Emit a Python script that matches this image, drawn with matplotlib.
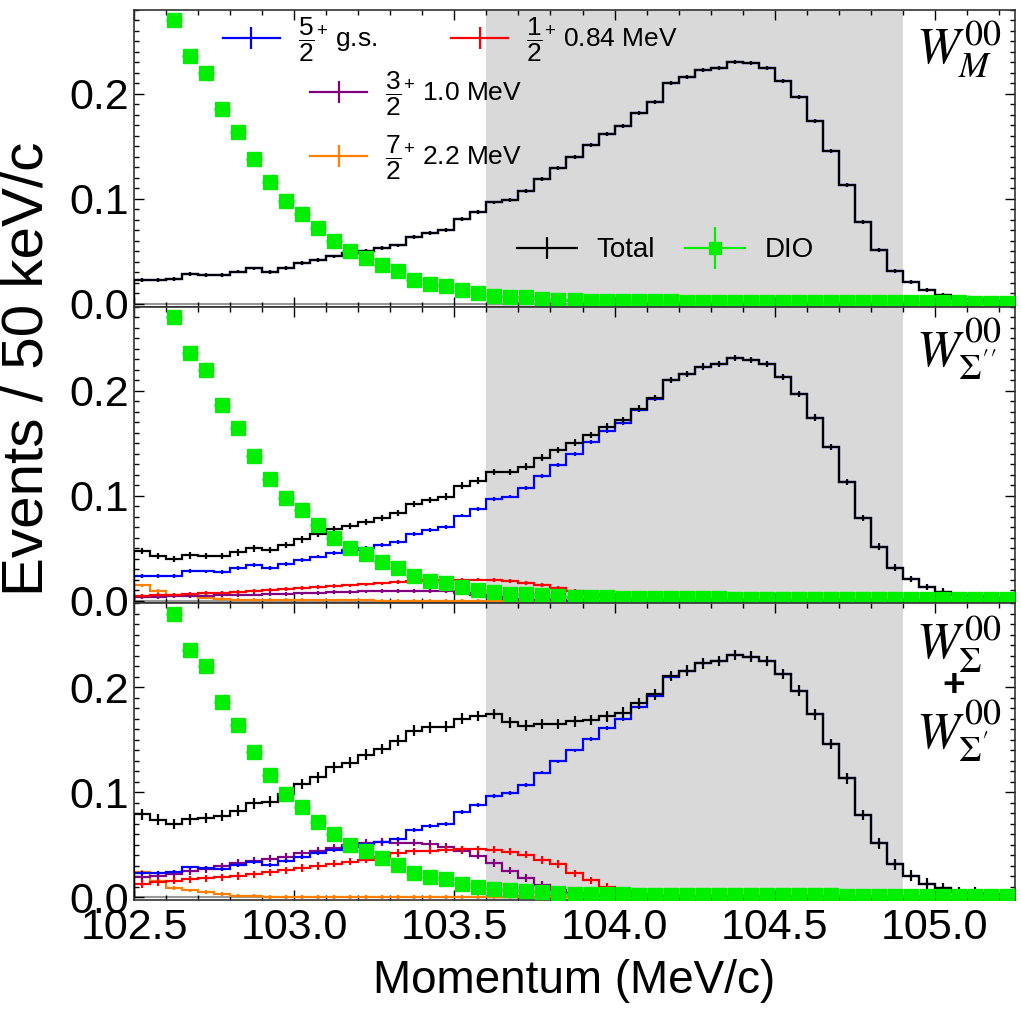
import numpy as np
import matplotlib
matplotlib.use("Agg")
import matplotlib.pyplot as plt
from matplotlib.lines import Line2D
from matplotlib.ticker import MultipleLocator, FormatStrFormatter

plt.rcParams['font.family'] = ['Liberation Sans', 'DejaVu Sans']
plt.rcParams['mathtext.fontset'] = 'custom'
plt.rcParams['mathtext.rm'] = 'Liberation Sans'
plt.rcParams['mathtext.it'] = 'Liberation Sans:italic'

# binning: 50 keV/c bins from 102.5 to 105.25 MeV/c
p_min = 102.5
bin_w = 0.05
n_bins = 55

# 5/2+ ground state (same in every panel, = total in the W_M panel)
gs = [0.0231, 0.0231, 0.0238, 0.0284, 0.0278, 0.0272, 0.0308, 0.0338, 0.0307, 0.0345,
      0.0387, 0.0420, 0.0452, 0.0482, 0.0503, 0.0530, 0.0557, 0.0638, 0.0676, 0.0701,
      0.0810, 0.0876, 0.0967, 0.0991, 0.1073, 0.1188, 0.1294, 0.1399, 0.1511, 0.1616,
      0.1695, 0.1816, 0.1921, 0.2102, 0.2159, 0.2229, 0.2251, 0.2308, 0.2292, 0.2251,
      0.2127, 0.1968, 0.1743, 0.1460, 0.1133, 0.0784, 0.0514, 0.0314, 0.0206, 0.0130,
      0.0086, 0.0051, 0.0044, 0.0029, 0.0007]

# decay-in-orbit background (same in every panel)
dio = [0.340, 0.300, 0.270, 0.236, 0.220, 0.186, 0.164, 0.138, 0.116, 0.098,
       0.086, 0.072, 0.060, 0.050, 0.044, 0.037, 0.031, 0.023, 0.019, 0.017,
       0.013, 0.010, 0.008, 0.0067, 0.0063, 0.0050, 0.0041, 0.0035, 0.0032, 0.0030,
       0.0028, 0.0026, 0.0025, 0.0024, 0.0023, 0.0022, 0.0021, 0.0020, 0.0020, 0.0019,
       0.0018, 0.0018, 0.0017, 0.0017, 0.0016, 0.0016, 0.0015, 0.0015, 0.0015, 0.0014,
       0.0014, 0.0014, 0.0013, 0.0013, 0.0013]

# W_Sigma'' panel
red_s2 = [0.0045, 0.0051, 0.0058, 0.0064, 0.0071, 0.0077, 0.0083, 0.0090, 0.0099, 0.0109,
          0.0118, 0.0128, 0.0138, 0.0144, 0.0154, 0.0163, 0.0176, 0.0185, 0.0195, 0.0201,
          0.0198, 0.0201, 0.0195, 0.0185, 0.0166, 0.0147, 0.0121, 0.0093, 0.0065, 0.0042,
          0.0025, 0.0013, 0.0006, 0.0002, 0.0, 0.0, 0.0, 0.0, 0.0, 0.0,
          0.0, 0.0, 0.0, 0.0, 0.0, 0.0, 0.0, 0.0, 0.0, 0.0,
          0.0, 0.0, 0.0, 0.0, 0.0]
purple_s2 = [0.0036, 0.0036, 0.0045, 0.0045, 0.0048, 0.0051, 0.0055, 0.0058, 0.0061, 0.0064,
             0.0068, 0.0074, 0.0080, 0.0083, 0.0087, 0.0090, 0.0093, 0.0093, 0.0090, 0.0087,
             0.0077, 0.0050, 0.0030, 0.0015, 0.0007, 0.0003, 0.0001, 0.0, 0.0, 0.0,
             0.0, 0.0, 0.0, 0.0, 0.0, 0.0, 0.0, 0.0, 0.0, 0.0,
             0.0, 0.0, 0.0, 0.0, 0.0, 0.0, 0.0, 0.0, 0.0, 0.0,
             0.0, 0.0, 0.0, 0.0, 0.0]
orange_s2 = [0.0144, 0.0090, 0.0058, 0.0042, 0.0029, 0.0017, 0.0010, 0.0007, 0.0005, 0.0004,
             0.0003, 0.0002, 0.0002, 0.0001, 0.0001, 0.0, 0.0, 0.0, 0.0, 0.0,
             0.0, 0.0, 0.0, 0.0, 0.0, 0.0, 0.0, 0.0, 0.0, 0.0,
             0.0, 0.0, 0.0, 0.0, 0.0, 0.0, 0.0, 0.0, 0.0, 0.0,
             0.0, 0.0, 0.0, 0.0, 0.0, 0.0, 0.0, 0.0, 0.0, 0.0,
             0.0, 0.0, 0.0, 0.0, 0.0]
total_s2 = [0.0472, 0.0424, 0.0395, 0.0431, 0.0424, 0.0424, 0.0459, 0.0497, 0.0481, 0.0529,
            0.0583, 0.0634, 0.0679, 0.0711, 0.0749, 0.0787, 0.0832, 0.0921, 0.0959, 0.0991,
            0.1096, 0.1143, 0.1223, 0.1223, 0.1277, 0.1363, 0.1437, 0.1506, 0.1576, 0.1658,
            0.1720, 0.1829, 0.1927, 0.2104, 0.2159, 0.2229, 0.2251, 0.2308, 0.2292, 0.2251,
            0.2127, 0.1968, 0.1743, 0.1460, 0.1133, 0.0784, 0.0514, 0.0314, 0.0206, 0.0130,
            0.0086, 0.0051, 0.0044, 0.0029, 0.0007]

# W_Sigma + W_Sigma' panel
red_s = [0.0127, 0.0143, 0.0159, 0.0172, 0.0181, 0.0191, 0.0203, 0.0219, 0.0238, 0.0257,
         0.0280, 0.0299, 0.0321, 0.0340, 0.0359, 0.0381, 0.0423, 0.0438, 0.0445, 0.0454,
         0.0457, 0.0457, 0.0454, 0.0435, 0.0407, 0.0356, 0.0318, 0.0229, 0.0160, 0.0100,
         0.0060, 0.0030, 0.0012, 0.0004, 0.0, 0.0, 0.0, 0.0, 0.0, 0.0,
         0.0, 0.0, 0.0, 0.0, 0.0, 0.0, 0.0, 0.0, 0.0, 0.0,
         0.0, 0.0, 0.0, 0.0, 0.0]
purple_s = [0.0191, 0.0206, 0.0222, 0.0248, 0.0267, 0.0296, 0.0327, 0.0349, 0.0368, 0.0387,
            0.0419, 0.0445, 0.0470, 0.0502, 0.0521, 0.0527, 0.0521, 0.0521, 0.0508, 0.0483,
            0.0445, 0.0397, 0.0327, 0.0254, 0.0184, 0.0121, 0.0070, 0.0038, 0.0018, 0.0008,
            0.0003, 0.0, 0.0, 0.0, 0.0, 0.0, 0.0, 0.0, 0.0, 0.0,
            0.0, 0.0, 0.0, 0.0, 0.0, 0.0, 0.0, 0.0, 0.0, 0.0,
            0.0, 0.0, 0.0, 0.0, 0.0]
orange_s = [0.0242, 0.0155, 0.0088, 0.0065, 0.0048, 0.0032, 0.0016, 0.0010, 0.0006, 0.0004,
            0.0003, 0.0002, 0.0002, 0.0001, 0.0001, 0.0, 0.0, 0.0, 0.0, 0.0,
            0.0, 0.0, 0.0, 0.0, 0.0, 0.0, 0.0, 0.0, 0.0, 0.0,
            0.0, 0.0, 0.0, 0.0, 0.0, 0.0, 0.0, 0.0, 0.0, 0.0,
            0.0, 0.0, 0.0, 0.0, 0.0, 0.0, 0.0, 0.0, 0.0, 0.0,
            0.0, 0.0, 0.0, 0.0, 0.0]
total_s = [0.0790, 0.0740, 0.0699, 0.0743, 0.0756, 0.0778, 0.0826, 0.0895, 0.0911, 0.0985,
           0.1080, 0.1143, 0.1238, 0.1283, 0.1359, 0.1413, 0.1492, 0.1588, 0.1619, 0.1626,
           0.1702, 0.1728, 0.1747, 0.1667, 0.1635, 0.1651, 0.1651, 0.1676, 0.1689, 0.1724,
           0.1758, 0.1846, 0.1933, 0.2106, 0.2159, 0.2229, 0.2251, 0.2308, 0.2292, 0.2251,
           0.2127, 0.1968, 0.1743, 0.1460, 0.1133, 0.0784, 0.0514, 0.0314, 0.0206, 0.0130,
           0.0086, 0.0051, 0.0044, 0.0029, 0.0007]

# rough statistical errors per curve
err_total = [0.0018, 0.003, 0.005]
err_comp = 0.0018
err_comp_big = 0.0035

signal_window = (103.6, 104.9)

c_gs, c_084, c_10, c_22 = '#0000ff', '#ff0000', '#800080', '#ff8000'
c_dio = '#00ee00'

edges = p_min + bin_w * np.arange(n_bins + 1)
centers = edges[:-1] + bin_w / 2

fig = plt.figure(figsize=(10.21, 10.24), dpi=100)
W, H = 1021, 1024
left, right = 134 / W, 1015 / W
top, bottom = 1 - 10 / H, 1 - 900 / H
ph = (top - bottom) / 3
axes = [fig.add_axes([left, top - (i + 1) * ph, right - left, ph]) for i in range(3)]


def hist(ax, vals, color, err, lw=1.6, z=3):
    ax.stairs(vals, edges, color=color, lw=lw, zorder=z)
    ax.errorbar(centers, vals, yerr=err, fmt='none', ecolor=color, elinewidth=lw, zorder=z)


def draw_dio(ax):
    ax.errorbar(centers, dio, xerr=bin_w / 2, fmt='s', color=c_dio, ms=10, mec=c_dio,
                elinewidth=2, zorder=5)


panels = [
    dict(total=gs, comps=[], label=r'$W_{M}^{00}$'),
    dict(total=total_s2, comps=[(orange_s2, c_22, err_comp), (purple_s2, c_10, err_comp),
                                (red_s2, c_084, err_comp)], label=r"$W_{\Sigma''}^{00}$"),
    dict(total=total_s, comps=[(orange_s, c_22, err_comp), (purple_s, c_10, err_comp_big),
                               (red_s, c_084, err_comp_big)], label=None),
]

for i, (ax, pan) in enumerate(zip(axes, panels)):
    ax.axvspan(*signal_window, color='#d9d9d9', zorder=0, lw=0)
    ax.axhline(0, color='#999999', lw=1.5, zorder=1)
    for vals, col, e in pan['comps']:
        hist(ax, vals, col, e)
    hist(ax, gs, c_gs, err_comp)
    hist(ax, pan['total'], 'black', err_total[i], z=4)
    draw_dio(ax)

    ax.set_xlim(p_min, 105.25)
    ax.set_ylim(-0.0026, 0.28)
    ax.xaxis.set_major_locator(MultipleLocator(0.5))
    ax.xaxis.set_minor_locator(MultipleLocator(0.1))
    ax.yaxis.set_major_locator(MultipleLocator(0.1))
    ax.yaxis.set_minor_locator(MultipleLocator(0.01))
    ax.yaxis.set_major_formatter(FormatStrFormatter('%.1f'))
    ax.xaxis.set_major_formatter(FormatStrFormatter('%.1f'))
    ax.tick_params(which='both', direction='in', top=True, right=True, labelsize=31, width=1.0)
    ax.tick_params(which='major', length=7)
    ax.tick_params(which='minor', length=3.5)
    ax.tick_params(axis='x', pad=6)
    for s in ax.spines.values():
        s.set_linewidth(1.2)
        s.set_color('#333333')
    if i < 2:
        ax.tick_params(labelbottom=False)
    if pan['label']:
        ax.text(0.985, 0.97, pan['label'], transform=ax.transAxes, ha='right', va='top',
                fontsize=37, math_fontfamily='stix')

# stacked label in the bottom panel
axb = axes[2]
axb.text(0.985, 0.965, r'$W_{\Sigma}^{00}$', transform=axb.transAxes, ha='right', va='top',
         fontsize=37, math_fontfamily='stix')
axb.text(0.93, 0.72, '+', transform=axb.transAxes, ha='center', va='center',
         fontsize=28, fontweight='bold')
axb.text(0.985, 0.685, r"$W_{\Sigma'}^{00}$", transform=axb.transAxes, ha='right', va='top',
         fontsize=37, math_fontfamily='stix')

axb.set_xlabel('Momentum (MeV/c)', fontsize=33, labelpad=8)
fig.text(0.027, 0.64, 'Events / 50 keV/c', rotation=90, fontsize=42, ha='center', va='center')

# legends in the top panel
ax0 = axes[0]


def h(color):
    return Line2D([], [], color=color, lw=1.6, marker='|', ms=16, mew=1.6)


leg_kw = dict(frameon=False, fontsize=19, borderpad=0, borderaxespad=0, handlelength=2.15,
              handletextpad=0.7, loc='center left', numpoints=1)
leg1 = ax0.legend([h(c_gs), h(c_084)],
                  [r'$\dfrac{5}{2}^{+}$ g.s.', r'$\dfrac{1}{2}^{+}$ 0.84 MeV'],
                  ncol=2, columnspacing=2.8, bbox_to_anchor=(0.101, 0.898), **leg_kw)
ax0.add_artist(leg1)
leg2 = ax0.legend([h(c_10)], [r'$\dfrac{3}{2}^{+}$ 1.0 MeV'],
                  bbox_to_anchor=(0.2, 0.716), **leg_kw)
ax0.add_artist(leg2)
leg3 = ax0.legend([h(c_22)], [r'$\dfrac{7}{2}^{+}$ 2.2 MeV'],
                  bbox_to_anchor=(0.2, 0.50), **leg_kw)
ax0.add_artist(leg3)
dio_h = (Line2D([], [], color=c_dio, lw=1.6, marker='|', ms=30, mew=1.6),
         Line2D([], [], color=c_dio, lw=0, marker='s', ms=9))
leg4 = ax0.legend([h('black'), dio_h], ['Total', 'DIO'], ncol=2, columnspacing=1.1,
                  bbox_to_anchor=(0.435, 0.19), **{**leg_kw, 'fontsize': 20})

fig.savefig('out.png', dpi=100)
